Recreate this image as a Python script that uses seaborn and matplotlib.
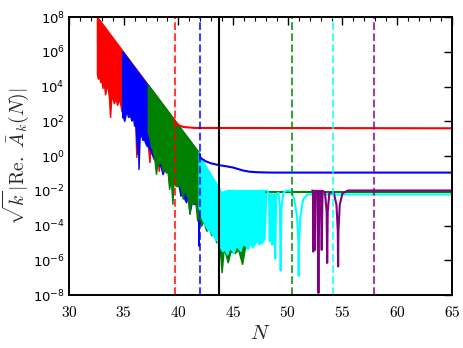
import numpy as np
import matplotlib
matplotlib.use("Agg")
import matplotlib.pyplot as plt
import seaborn as sns
from matplotlib.ticker import FixedLocator, MultipleLocator, NullLocator, FuncFormatter, LogFormatterMathtext

# values, stored as log10 of sqrt(k)|Re A_k(N)|
# oscillating part of each mode: upper edge and lower (spiky) edge
red_top_n = [32.6, 39.55]
red_top = [8.0, 2.15]
red_low_n = [32.6, 32.7, 32.8, 32.9, 33.0, 33.1, 33.2, 33.35, 33.45, 33.6, 33.7, 33.8, 33.9,
             34.0, 34.15, 34.3, 34.45, 34.6, 34.75, 34.84, 35.0, 35.3, 35.6, 35.9, 36.1, 36.2,
             36.3, 36.6, 36.9, 37.2, 37.4, 37.5, 37.65, 37.8, 38.0, 38.1, 38.25, 38.4, 38.7,
             39.0, 39.2, 39.35, 39.5, 39.55]
red_low = [4.67, 4.4, 4.7, 4.2, 4.5, 3.86, 4.3, 3.5, 3.9, 3.86, 3.3, 2.2, 3.2,
           3.4, 3.0, 3.3, 2.9, 3.3, 2.9, 2.56, 2.9, 2.6, 2.7, 2.3, 1.9, -0.1,
           1.6, 1.5, 1.2, 1.0, -0.4, 0.8, 0.18, 0.6, -0.3, 0.3, -0.9, 0.1, -0.2,
           -0.5, -1.65, -0.7, -1.94, 2.15]
# settled part of each mode
red_line_n = [39.55, 39.8, 40.1, 40.5, 41.5, 65.0]
red_line = [2.15, 1.9, 1.75, 1.67, 1.62, 1.6]

blue_top_n = [34.9, 41.95]
blue_top = [6.02, 0.12]
blue_low_n = [34.9, 35.0, 35.1, 35.3, 35.45, 35.6, 35.75, 35.9, 36.0, 36.1, 36.3, 36.35, 36.4,
              36.5, 36.6, 36.75, 36.9, 37.1, 37.3, 37.55, 37.8, 38.1, 38.4, 38.6, 38.8, 39.1,
              39.4, 39.7, 40.0, 40.24, 40.4, 40.6, 40.76, 40.9, 41.06, 41.3, 41.5, 41.7, 41.85,
              41.9, 41.95]
blue_low = [2.2, 2.2, 1.98, 2.6, 2.2, 2.37, 2.0, 2.2, 1.7, 2.0, 0.07, 1.2, -0.79,
            1.0, 1.33, 0.9, 0.93, 0.6, 0.5, 0.17, -0.2, -0.4, -0.6, -1.08, -0.7, -0.9,
            -1.56, -1.2, -1.5, -2.33, -1.9, -2.5, -2.7, -2.2, -3.3, -2.6, -2.8, -2.7, -3.0,
            -5.2, 0.12]
blue_line_n = [41.95, 42.0, 42.5, 43.0, 43.7, 44.5, 45.0, 45.9, 46.5, 47.2, 48.5, 65.0]
blue_line = [0.12, -0.1, -0.3, -0.42, -0.52, -0.6, -0.66, -0.83, -0.9, -0.93, -0.95, -0.95]

green_top_n = [37.25, 41.85, 42.0, 43.6, 44.5, 48.0]
green_top = [4.1, 0.24, -0.4, -2.15, -2.1, -2.1]
green_low_n = [37.25, 37.4, 37.55, 37.7, 37.85, 38.0, 38.15, 38.3, 38.45, 38.6, 38.75, 38.9,
               39.05, 39.2, 39.35, 39.5, 39.6, 39.8, 40.0, 40.15, 40.3, 40.45, 40.6, 40.75,
               40.9, 41.06, 41.2, 41.4, 41.55, 41.67, 41.76, 41.85, 42.1, 42.35, 42.6, 42.8,
               43.05, 43.3, 43.5, 43.75, 44.0, 44.2, 44.56, 44.8, 45.2, 45.5, 45.87, 46.1, 48.0]
green_low = [1.33, 1.05, 0.5, 0.3, -0.2, -1.08, -0.3, -0.5, -0.2, -0.9, -0.6, -1.0,
             -0.8, -1.94, -1.3, -2.8, -1.5, -1.75, -1.75, -1.6, -2.0, -2.5, -1.9, -2.2,
             -2.4, -3.38, -2.6, -2.8, -2.5, -3.1, -3.76, -3.2, -4.05, -3.8, -4.34, -4.1,
             -4.59, -4.4, -5.0, -4.8, -6.73, -5.3, -6.16, -5.5, -5.6, -5.4, -6.25, -5.4, -2.1]
green_line_n = [48.0, 65.0]
green_line = [-2.04, -2.04]

cyan_top_n = [41.9, 42.0, 43.65, 43.95, 44.5, 48.1]
cyan_top = [0.2, -0.03, -1.75, -2.1, -1.98, -1.98]
cyan_low_n = [41.9, 42.1, 42.4, 42.7, 43.0, 43.3, 43.55, 43.8, 44.05, 44.26, 44.5, 44.7, 44.87,
              45.1, 45.3, 45.5, 45.7, 45.9, 46.2, 46.4, 46.6, 46.8, 47.0, 47.2, 47.4, 47.7,
              47.9, 48.1]
cyan_low = [-3.0, -3.48, -3.9, -4.24, -4.4, -4.72, -4.9, -5.2, -5.5, -5.4, -5.7, -5.3, -5.4,
            -5.6, -5.2, -5.3, -5.5, -5.1, -5.2, -5.4, -5.0, -5.3, -5.1, -4.9, -5.1, -5.0,
            -4.8, -1.98]
cyan_line_n = [48.1, 48.28, 48.35, 48.42, 48.53, 48.6, 48.67, 48.76, 48.85, 48.94, 49.15, 49.28,
               49.35, 49.42, 49.6, 49.9, 50.3, 50.6, 50.85, 50.97, 51.0, 51.03, 51.15, 51.4,
               51.8, 52.5, 65.0]
cyan_line = [-1.98, -2.2, -4.9, -2.2, -2.2, -5.1, -2.2, -2.2, -5.9, -2.2, -2.1, -3.0,
             -6.6, -3.0, -2.1, -1.98, -2.0, -2.5, -3.5, -5.0, -6.9, -5.0, -3.5, -2.5,
             -2.2, -2.21, -2.21]

purple_line_n = [52.24, 52.3, 52.33, 52.37, 52.45, 52.49, 52.53, 52.72, 52.8, 52.88, 53.02,
                 53.1, 53.18, 53.4, 53.55, 53.6, 53.65, 53.8, 54.2, 54.45, 54.57, 54.6, 54.63,
                 54.75, 55.0, 55.5, 65.0]
purple_line = [-1.98, -2.0, -5.5, -2.0, -2.0, -5.4, -2.0, -2.0, -7.88, -2.0, -2.0,
               -5.4, -2.0, -2.1, -3.2, -6.15, -3.2, -2.1, -2.1, -2.8, -4.3, -6.35, -4.3,
               -2.8, -2.15, -1.98, -1.98]

# vertical markers
marker_n = [39.69, 41.95, 50.35, 54.16, 57.85]
black_n = 43.68

colors = {"red": "#ff0000", "blue": "#0000ff", "green": "#008000",
          "cyan": "#00ffff", "purple": "#800080"}

sns.set_style("white")
plt.rcParams["mathtext.fontset"] = "cm"
plt.rcParams["axes.edgecolor"] = "black"
plt.rcParams["axes.linewidth"] = 1.4

fig = plt.figure(figsize=(4.63, 3.48), dpi=100)
ax = fig.add_axes([0.149, 0.152, 0.827, 0.799])
ax.set_yscale("log")


def band(top_n, top, low_n, low, c):
    xs = list(top_n) + list(low_n)[::-1]
    ys = list(top) + list(low)[::-1]
    ax.fill(xs, 10.0 ** np.array(ys), facecolor=c, edgecolor=c, linewidth=1.0)


def line(n, v, c):
    sns.lineplot(x=n, y=10.0 ** np.array(v), color=c, lw=1.5, sort=False,
                 estimator=None, ax=ax)


band(red_top_n, red_top, red_low_n, red_low, colors["red"])
line(red_line_n, red_line, colors["red"])
band(blue_top_n, blue_top, blue_low_n, blue_low, colors["blue"])
line(blue_line_n, blue_line, colors["blue"])
band(green_top_n, green_top, green_low_n, green_low, colors["green"])
line(green_line_n, green_line, colors["green"])
band(cyan_top_n, cyan_top, cyan_low_n, cyan_low, colors["cyan"])
line(cyan_line_n, cyan_line, colors["cyan"])
line(purple_line_n, purple_line, colors["purple"])

for xv, c in zip(marker_n, ["red", "blue", "green", "cyan", "purple"]):
    ax.axvline(xv, color=colors[c], ls="--", lw=1.5, alpha=0.75)
ax.axvline(black_n, color="black", lw=1.5)

ax.set_xlim(30, 65)
ax.set_ylim(1e-8, 1e8)
ax.xaxis.set_major_locator(MultipleLocator(5))
ax.xaxis.set_minor_locator(MultipleLocator(1))
ax.xaxis.set_major_formatter(FuncFormatter(lambda v, p: f"${v:.0f}$"))
ax.yaxis.set_major_locator(FixedLocator([10.0 ** e for e in range(-8, 9, 2)]))
ax.yaxis.set_minor_locator(NullLocator())
ax.yaxis.set_major_formatter(LogFormatterMathtext())
ax.tick_params(which="both", direction="in", top=True, right=True, colors="black")
ax.tick_params(axis="x", labelsize=11, pad=7)
ax.tick_params(axis="y", labelsize=9.5, pad=3)
ax.tick_params(which="major", length=6, width=1)
ax.tick_params(which="minor", length=3, width=0.8)

ax.set_xlabel("$N$", fontsize=15, labelpad=2)
ax.set_ylabel(r"$\sqrt{k}\,|\mathrm{Re.}\ \bar{A}_k(N)|$", fontsize=14, labelpad=1)

fig.savefig("out.png", dpi=100)
